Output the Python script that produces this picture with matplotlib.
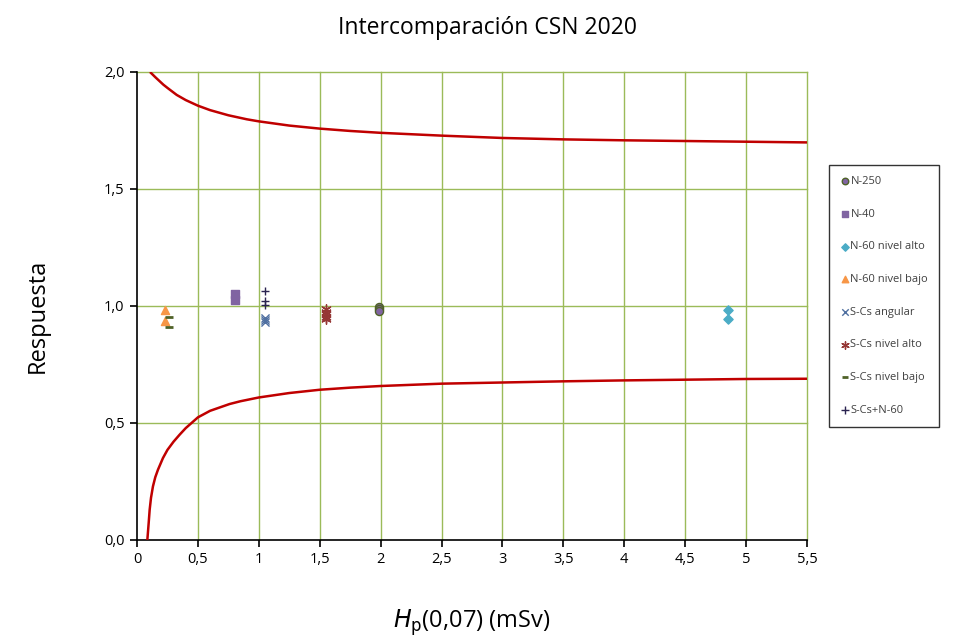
import matplotlib
matplotlib.use("Agg")
import matplotlib.pyplot as plt

# Limit curves
upper_h = [0.107, 0.15, 0.216, 0.25, 0.326, 0.4, 0.5, 0.6, 0.75, 0.9, 1.0, 1.25, 1.5, 1.75, 2.0, 2.5, 3.0, 3.5, 4.0, 4.5, 5.0, 5.5]
upper_v = [2.0, 1.978, 1.946, 1.932, 1.902, 1.880, 1.856, 1.837, 1.815, 1.798, 1.789, 1.771, 1.758, 1.748, 1.740, 1.728, 1.718, 1.712, 1.708, 1.705, 1.702, 1.699]
lower_h = [0.085, 0.096, 0.104, 0.115, 0.131, 0.15, 0.172, 0.213, 0.25, 0.3, 0.35, 0.4, 0.5, 0.6, 0.76, 0.85, 1.0, 1.25, 1.5, 1.75, 2.0, 2.5, 3.0, 3.5, 4.0, 4.5, 5.0, 5.5]
lower_v = [0.0, 0.073, 0.129, 0.180, 0.229, 0.268, 0.300, 0.350, 0.385, 0.420, 0.450, 0.478, 0.524, 0.552, 0.581, 0.593, 0.609, 0.628, 0.642, 0.651, 0.658, 0.668, 0.673, 0.678, 0.682, 0.685, 0.688, 0.689]

# Series
n250_h = [1.99, 1.99, 1.99]
n250_v = [0.995, 0.985, 0.978]
n40_h = [0.808, 0.808]
n40_v = [1.050, 1.027]
n60a_h = [4.85, 4.85]
n60a_v = [0.984, 0.946]
n60b_h = [0.232, 0.232]
n60b_v = [0.984, 0.937]
scs_ang_h = [1.052, 1.052, 1.052]
scs_ang_v = [0.948, 0.938, 0.930]
scs_alto_h = [1.55, 1.55, 1.55, 1.55, 1.55]
scs_alto_v = [0.985, 0.975, 0.965, 0.955, 0.945]
scs_bajo_h = [0.26, 0.26]
scs_bajo_v = [0.951, 0.911]
scs_n60_h = [1.052, 1.052, 1.052]
scs_n60_v = [1.063, 1.020, 1.006]

plt.rcParams['font.family'] = ['Open Sans', 'DejaVu Sans']

fig = plt.figure(figsize=(9.75, 6.41), dpi=100)
ax = fig.add_axes([0.1405, 0.1576, 0.6872, 0.7301])

grid_c = '#9BBB59'
ax.set_xlim(0, 5.5)
ax.set_ylim(0, 2.0)
xt = [0, 0.5, 1, 1.5, 2, 2.5, 3, 3.5, 4, 4.5, 5, 5.5]
yt = [0, 0.5, 1.0, 1.5, 2.0]
ax.set_xticks(xt)
ax.set_xticklabels(['0', '0,5', '1', '1,5', '2', '2,5', '3', '3,5', '4', '4,5', '5', '5,5'])
ax.set_yticks(yt)
ax.set_yticklabels(['0,0', '0,5', '1,0', '1,5', '2,0'])
for x in xt[1:]:
    ax.axvline(x, color=grid_c, lw=1, zorder=1, clip_on=False)
for y in yt[1:]:
    ax.axhline(y, color=grid_c, lw=1, zorder=1, clip_on=False)
ax.spines['top'].set_visible(False)
ax.spines['right'].set_visible(False)
ax.spines['left'].set_linewidth(1.2)
ax.spines['bottom'].set_linewidth(1.2)
ax.tick_params(axis='both', direction='out', length=5, width=1.2, labelsize=10.5, pad=4)

ax.plot(upper_h, upper_v, color='#C00000', lw=1.8, zorder=3, solid_capstyle='butt', solid_joinstyle='round')
ax.plot(lower_h, lower_v, color='#C00000', lw=1.8, zorder=3, solid_capstyle='butt', solid_joinstyle='round')

ax.scatter(n250_h, n250_v, marker='o', s=34, facecolor='#8064A2', edgecolor='#4F6228', lw=1, zorder=5, label='N-250')
ax.scatter(n40_h, n40_v, marker='s', s=38, facecolor='#8064A2', edgecolor='#8064A2', zorder=5, label='N-40')
ax.scatter(n60a_h, n60a_v, marker='D', s=22, facecolor='#4BACC6', edgecolor='#4BACC6', zorder=5, label='N-60 nivel alto')
ax.scatter(n60b_h, n60b_v, marker='^', s=34, facecolor='#F79646', edgecolor='#F79646', zorder=5, label='N-60 nivel bajo')
ax.scatter(scs_ang_h, scs_ang_v, marker='x', s=34, color='#4F6FA0', lw=1, zorder=5, label='S-Cs angular')
ax.scatter(scs_alto_h, scs_alto_v, marker=(6, 2, 0), s=45, color='#953735', lw=1, zorder=5, label='S-Cs nivel alto')
ax.scatter(scs_bajo_h, scs_bajo_v, marker='_', s=30, color='#4F6228', lw=2, zorder=5, label='S-Cs nivel bajo')
ax.scatter(scs_n60_h, scs_n60_v, marker='+', s=40, color='#2A2350', lw=1, zorder=5, label='S-Cs+N-60')

leg = fig.legend(loc='upper left', bbox_to_anchor=(0.850, 0.7426), frameon=True, fancybox=False,
                 edgecolor='black', fontsize=8, labelspacing=1.95, handletextpad=0.05,
                 handlelength=0.9, borderpad=1.0, borderaxespad=0, markerscale=0.8)
leg.get_frame().set_linewidth(1.0)
for t in leg.get_texts():
    t.set_color('#404040')

fig.text(0.4995, 0.956, 'Intercomparación CSN 2020', ha='center', va='center', fontsize=16.5)
fig.text(0.039, 0.507, 'Respuesta', rotation=90, ha='center', va='center', fontsize=17)
fig.text(0.4835, 0.029, r'$\mathit{H}_\mathrm{p}$(0,07) (mSv)', ha='center', va='center', fontsize=17,
         math_fontfamily='dejavusans')

fig.savefig('out.png', dpi=100)
